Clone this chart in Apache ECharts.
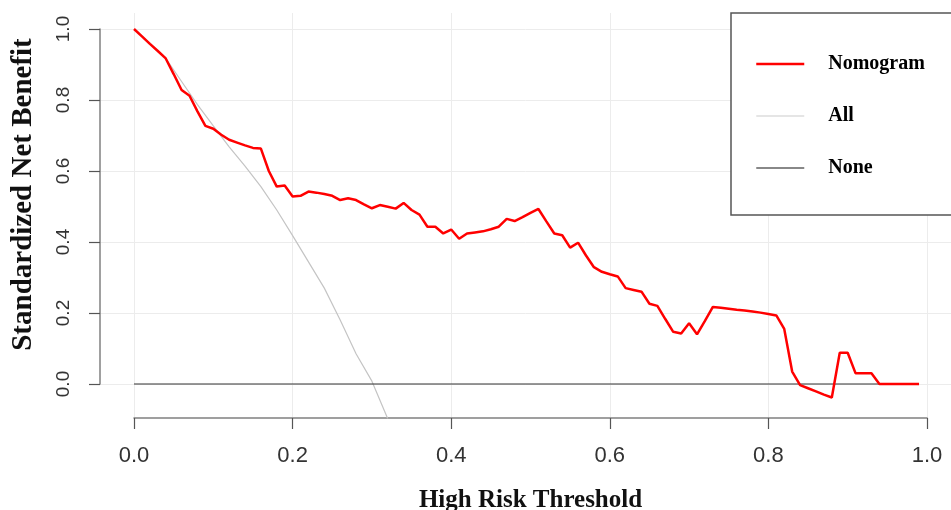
<!DOCTYPE html>
<html>
<head>
<meta charset="utf-8">
<script src="https://cdn.jsdelivr.net/npm/echarts@6/dist/echarts.min.js"></script>
<style>html,body{margin:0;padding:0;background:#fff}#c{width:951px;height:510px}</style>
</head>
<body>
<div id="c"></div>
<script>
var thresholds = [0.00,0.01,0.02,0.03,0.04,0.05,0.06,0.07,0.08,0.09,
  0.10,0.11,0.12,0.13,0.14,0.15,0.16,0.17,0.18,0.19,
  0.20,0.21,0.22,0.23,0.24,0.25,0.26,0.27,0.28,0.29,
  0.30,0.31,0.32,0.33,0.34,0.35,0.36,0.37,0.38,0.39,
  0.40,0.41,0.42,0.43,0.44,0.45,0.46,0.47,0.48,0.49,
  0.50,0.51,0.52,0.53,0.54,0.55,0.56,0.57,0.58,0.59,
  0.60,0.61,0.62,0.63,0.64,0.65,0.66,0.67,0.68,0.69,
  0.70,0.71,0.72,0.73,0.74,0.75,0.76,0.77,0.78,0.79,
  0.80,0.81,0.82,0.83,0.84,0.85,0.86,0.87,0.88,0.89,
  0.90,0.91,0.92,0.93,0.94,0.95,0.96,0.97,0.98,0.99];
var nomogram = [1.000,0.979,0.958,0.938,0.917,0.873,0.828,0.812,0.768,0.727,
  0.719,0.702,0.688,0.680,0.672,0.665,0.663,0.600,0.556,0.559,
  0.528,0.530,0.542,0.539,0.535,0.530,0.518,0.523,0.518,0.506,
  0.495,0.504,0.499,0.494,0.510,0.490,0.477,0.443,0.443,0.424,
  0.435,0.409,0.424,0.427,0.430,0.436,0.443,0.465,0.459,0.470,
  0.482,0.493,0.458,0.424,0.419,0.384,0.398,0.362,0.329,0.316,
  0.309,0.303,0.270,0.265,0.260,0.226,0.220,0.183,0.147,0.142,
  0.171,0.140,0.178,0.217,0.215,0.212,0.209,0.207,0.204,0.201,
  0.197,0.193,0.155,0.035,-0.003,-0.012,-0.021,-0.030,-0.038,0.088,
  0.088,0.030,0.030,0.030,0.000,0.000,0.000,0.000,0.000,0.000];
var allX = [0.00,0.02,0.04,0.06,0.08,0.10,0.12,0.14,0.16,0.18,0.20,0.22,0.24,0.26,0.28,0.30,0.32];
var allY = [1.000,0.960,0.917,0.852,0.787,0.727,0.668,0.614,0.556,0.490,0.418,0.344,0.270,0.180,0.085,0.008,-0.098];
var noneX = [0.00,0.99];
var noneY = [0,0];
var xTicks = [0,0.2,0.4,0.6,0.8,1.0];
var yTicks = [0,0.2,0.4,0.6,0.8,1.0];

function pairs(xs, ys){ return xs.map(function(x,i){ return [x, ys[i]]; }); }

var chart = echarts.init(document.getElementById('c'), null, {renderer:'canvas'});
var tickFont = 'Liberation Sans';
var titleFont = 'Liberation Serif';
var hiddenSymbol = {color: 'rgba(0,0,0,0)', borderColor: 'rgba(0,0,0,0)', borderWidth: 0, opacity: 0};
var option = {
  animation: false,
  backgroundColor: '#fff',
  grid: [
    {left: 100, right: 0, top: 13, bottom: 92, containLabel: false, outerBoundsMode: 'none'},
    {left: 134, right: 24, top: 13, bottom: 92, containLabel: false, outerBoundsMode: 'none'},
    {left: 100, right: 0, top: 29, bottom: 126, containLabel: false, outerBoundsMode: 'none'}
  ],
  xAxis: [
    {gridIndex: 0, type: 'value', min: -0.0429, max: 1.0303, show: false},
    {gridIndex: 1, type: 'value', min: xTicks[0], max: xTicks[xTicks.length-1], interval: 0.2,
      position: 'bottom',
      axisLine: {show: true, onZero: false, lineStyle: {color: '#808080', width: 1.5}},
      axisTick: {show: true, inside: false, length: 11, lineStyle: {color: '#555', width: 1.2}},
      axisLabel: {show: true, margin: 27, fontFamily: tickFont, fontSize: 22, color: '#333',
        formatter: function(v){ return v.toFixed(1); }},
      splitLine: {show: true, lineStyle: {color: '#ececec', width: 1}},
      name: 'High Risk Threshold', nameLocation: 'middle', nameGap: 70,
      nameTextStyle: {fontFamily: titleFont, fontWeight: 'bold', fontSize: 25, color: '#111'}
    },
    {gridIndex: 2, type: 'value', min: 0, max: 1, show: false}
  ],
  yAxis: [
    {gridIndex: 0, type: 'value', min: -0.0958, max: 1.045, show: false},
    {gridIndex: 1, type: 'value', min: 0, max: 1, show: false},
    {gridIndex: 2, type: 'value', min: yTicks[0], max: yTicks[yTicks.length-1], interval: 0.2,
      position: 'left',
      axisLine: {show: true, onZero: false, lineStyle: {color: '#808080', width: 1.5}},
      axisTick: {show: true, inside: false, length: 11, lineStyle: {color: '#555', width: 1.2}},
      axisLabel: {show: true, rotate: 90, margin: 27, fontFamily: tickFont, fontSize: 19, color: '#333',
        formatter: function(v){ return v.toFixed(1); }},
      splitLine: {show: true, lineStyle: {color: '#ececec', width: 1}},
      name: 'Standardized Net Benefit', nameLocation: 'middle', nameGap: 62,
      nameTextStyle: {fontFamily: titleFont, fontWeight: 'bold', fontSize: 29, color: '#111', padding: [0, 0, 0, 24]}
    }
  ],
  legend: {
    orient: 'vertical', left: 731, top: 13,
    padding: [41, 120, 37, 24],
    itemGap: 32, itemWidth: 48, itemHeight: 14,
    backgroundColor: '#fff', borderColor: '#555', borderWidth: 1.5,
    itemStyle: hiddenSymbol,
    textStyle: {fontFamily: titleFont, fontWeight: 'bold', fontSize: 20, color: '#000', padding: [0, 0, 0, 19]},
    data: [
      {name: 'Nomogram', itemStyle: hiddenSymbol, lineStyle: {color: '#ff0000', width: 2.5}},
      {name: 'All', itemStyle: hiddenSymbol, lineStyle: {color: '#cccccc', width: 1.2}},
      {name: 'None', itemStyle: hiddenSymbol, lineStyle: {color: '#888888', width: 2}}
    ]
  },
  series: [
    {name: 'Nomogram', type: 'line', xAxisIndex: 0, yAxisIndex: 0, data: pairs(thresholds, nomogram),
      symbol: 'none', showSymbol: false, z: 5, clip: true,
      lineStyle: {color: '#ff0000', width: 2.5}, itemStyle: {color: '#ff0000'}},
    {name: 'All', type: 'line', xAxisIndex: 0, yAxisIndex: 0, data: pairs(allX, allY),
      symbol: 'none', showSymbol: false, z: 3, clip: true,
      lineStyle: {color: '#c4c4c4', width: 1.2}, itemStyle: {color: '#c4c4c4'}},
    {name: 'None', type: 'line', xAxisIndex: 0, yAxisIndex: 0, data: pairs(noneX, noneY),
      symbol: 'none', showSymbol: false, z: 4, clip: true,
      lineStyle: {color: '#333333', width: 1.2}, itemStyle: {color: '#333333'}}
  ]
};
chart.setOption(option);
</script>
</body>
</html>
